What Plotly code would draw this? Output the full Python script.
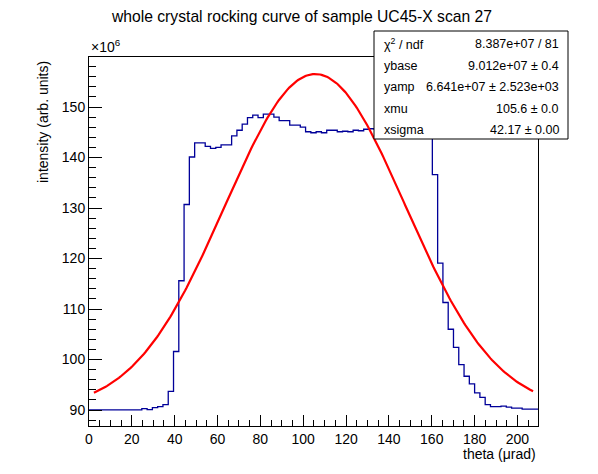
import numpy as np
import plotly.graph_objects as go

# histogram: 85 bins over theta 0 .. 209.6 urad, contents in units of 1e6
x_lo = 0.0
x_hi = 209.6
counts = [90.05, 90.05, 90.05, 90.05, 90.05, 90.05, 90.05, 90.05, 90.05, 90.05,
          90.3, 90.1, 90.5, 90.7, 91.1, 93.7, 101.6, 115.6, 130.7, 140.1,
          142.9, 142.9, 142.2, 141.8, 142.0, 142.5, 142.5, 144.3, 145.4, 146.6,
          147.9, 148.4, 147.9, 148.6, 148.6, 148.0, 147.3, 147.3, 146.4, 146.4,
          146.0, 145.1, 144.9, 145.1, 144.9, 145.4, 145.4, 145.1, 145.2, 145.1,
          145.4, 145.3, 145.6, 145.7, 145.6, 145.5, 145.8, 145.6, 145.7, 145.9,
          145.8, 146.0, 146.2, 146.5, 146.8, 136.6, 119.1, 111.3, 106.0, 102.4,
          99.0, 96.7, 95.2, 93.4, 92.5, 91.1, 90.7, 90.7, 90.8, 90.6,
          90.4, 90.4, 90.2, 90.2, 90.2]

# gaussian fit results (from the stat box)
ybase = 9.012e7
yamp = 6.641e7
xmu = 105.6
xsigma = 42.17
fit_lo = 2.3
fit_hi = 207.3

stat_labels = ["\u03c7<sup>2</sup> / ndf", "ybase", "yamp", "xmu", "xsigma"]
stat_values = ["8.387e+07 / 81", "9.012e+07 \u00b1 0.4", "6.641e+07 \u00b1 2.523e+03",
               "105.6 \u00b1 0.0", "42.17 \u00b1 0.00"]

nbins = len(counts)
edges = np.linspace(x_lo, x_hi, nbins + 1)
fx = np.linspace(fit_lo, fit_hi, 300)
fy = (ybase + yamp * np.exp(-0.5 * ((fx - xmu) / xsigma) ** 2)) / 1e6

font = "Liberation Sans, Arial, sans-serif"

fig = go.Figure()
fig.add_trace(go.Scatter(x=edges, y=counts + [counts[-1]], mode="lines",
                         line=dict(color="#000099", width=1.3, shape="hv"),
                         hoverinfo="skip"))
fig.add_trace(go.Scatter(x=fx, y=fy, mode="lines",
                         line=dict(color="#ff0000", width=2.2),
                         hoverinfo="skip"))

fig.update_layout(
    width=598, height=474,
    margin=dict(l=89, r=60, t=57, b=48, autoexpand=False),
    paper_bgcolor="white", plot_bgcolor="white",
    showlegend=False,
    font=dict(family=font, size=14, color="black"),
    title=dict(text="whole crystal rocking curve of sample UC45-X scan 27",
               x=302 / 598, xanchor="center", y=1 - 17 / 474, yanchor="middle",
               font=dict(size=15.7)),
)
fig.update_xaxes(range=[x_lo, x_hi], showgrid=False, zeroline=False,
                 automargin=False,
                 showline=True, mirror=True, linecolor="black", linewidth=1,
                 ticks="inside", ticklen=11, tickcolor="black",
                 tick0=0, dtick=20,
                 minor=dict(ticks="inside", ticklen=6, dtick=5, tickcolor="black"))
fig.update_yaxes(range=[86.85, 159.9], showgrid=False, zeroline=False,
                 automargin=False,
                 showline=True, mirror=True, linecolor="black", linewidth=1,
                 ticks="inside", ticklen=13, tickcolor="black",
                 tick0=90, dtick=10,
                 minor=dict(ticks="inside", ticklen=7, dtick=2, tickcolor="black"))

# axis titles and exponent label, ROOT style
fig.add_annotation(text="intensity (arb. units)", textangle=-90, showarrow=False,
                   xref="paper", yref="paper", x=(43 - 89) / 449, y=(426 - 59) / 369,
                   xanchor="center", yanchor="top", font=dict(size=14))
fig.add_annotation(text="theta (\u03bcrad)", showarrow=False,
                   xref="paper", yref="paper", x=1.0, y=(426 - 454) / 369,
                   xanchor="right", yanchor="middle", font=dict(size=14))
fig.add_annotation(text="\u00d710<sup>6</sup>", showarrow=False,
                   xref="paper", yref="paper", x=0.0, y=1.0,
                   xanchor="left", yanchor="bottom", font=dict(size=14))

# stat box
fig.add_shape(type="rect", xref="paper", yref="paper",
              x0=(374 - 89) / 449, x1=(568 - 89) / 449,
              y0=(426 - 139) / 369, y1=(426 - 31) / 369,
              line=dict(color="black", width=1), fillcolor="white", layer="above")
row_py = [44, 66, 87.5, 108.5, 129.5]
for lab, val, py in zip(stat_labels, stat_values, row_py):
    yy = (426 - py) / 369
    fig.add_annotation(text=lab, showarrow=False, xref="paper", yref="paper",
                       x=(382 - 89) / 449, y=yy, xanchor="left", yanchor="middle",
                       font=dict(size=12.5))
    fig.add_annotation(text=val, showarrow=False, xref="paper", yref="paper",
                       x=(561 - 89) / 449, y=yy, xanchor="right", yanchor="middle",
                       font=dict(size=12.5))

# drop the browser's default 8px page margin so the canvas sits at 0,0
fig.write_html("out.html", config={"displayModeBar": False},
               post_script="document.body.style.margin='0';")
